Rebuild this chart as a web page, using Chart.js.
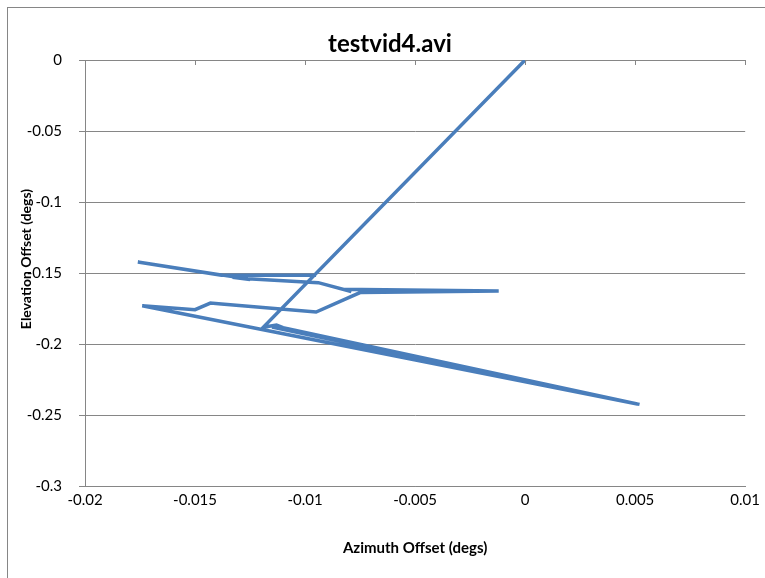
<!DOCTYPE html>
<html>
<head>
<meta charset="utf-8">
<script src="https://cdn.jsdelivr.net/npm/chart.js@4"></script>
<style>
  html, body { margin: 0; padding: 0; background: #fff; }
  #wrap { width: 765px; height: 578px; }
</style>
</head>
<body>
<div id="wrap"><canvas id="miGrafica"></canvas></div>
<script>
'use strict'

// DATOS
const azimuth = [0, -0.0119, -0.0113, -0.0110, 0.0052, -0.0115, 0.0051, -0.0174, -0.0150, -0.0143,
  -0.0138, -0.0095, -0.0075, -0.0012, -0.0081, -0.0079, -0.0094, -0.0126, -0.0133, -0.0125,
  -0.0176, -0.0138, -0.0095];
const elevation = [0, -0.1882, -0.1866, -0.1885, -0.2425, -0.1880, -0.2422, -0.1730, -0.1758, -0.1712,
  -0.1718, -0.1775, -0.1638, -0.1627, -0.1615, -0.1630, -0.1568, -0.1540, -0.1530, -0.1545,
  -0.1423, -0.1515, -0.1515];
const xTickLabels = ['-0.02', '-0.015', '-0.01', '-0.005', '0', '0.005', '0.01'];
const yTickLabels = ['-0.3', '-0.25', '-0.2', '-0.15', '-0.1', '-0.05', '0'];

const FONT = 'Lato, "Open Sans", sans-serif';
const GRIS = '#868686';

// BORDE, TITULO, TITULO DEL EJE Y Y MARCAS DEL EJE SUPERIOR
const extras = {
  id: 'extras',
  beforeDraw(chart) {
    const ctx = chart.ctx;
    ctx.save();
    ctx.strokeStyle = GRIS;
    ctx.lineWidth = 1;
    ctx.strokeRect(7.5, 7.5, 900, 900);
    ctx.restore();
  },
  afterDraw(chart) {
    const ctx = chart.ctx;
    const x = chart.scales.x;
    const area = chart.chartArea;
    ctx.save();
    ctx.strokeStyle = GRIS;
    ctx.lineWidth = 1;
    x.ticks.forEach(t => {
      const px = Math.round(x.getPixelForValue(t.value)) + 0.5;
      ctx.beginPath();
      ctx.moveTo(px, area.top);
      ctx.lineTo(px, area.top + 5);
      ctx.stroke();
    });
    ctx.fillStyle = '#000';
    ctx.font = 'bold 24px ' + FONT;
    ctx.textAlign = 'center';
    ctx.textBaseline = 'alphabetic';
    ctx.fillText('testvid4.avi', 390, 52);

    ctx.translate(26, 259);
    ctx.rotate(-Math.PI / 2);
    ctx.font = 'bold 14px ' + FONT;
    ctx.textBaseline = 'middle';
    ctx.fillText('Elevation Offset (degs)', 0, 0);
    ctx.restore();
  }
};

function crearGrafica() {
  const ctx = document.getElementById('miGrafica').getContext('2d');
  const puntos = azimuth.map((a, i) => ({ x: a, y: elevation[i] }));

  new Chart(ctx, {
    type: 'scatter',
    data: {
      datasets: [{
        data: puntos,
        showLine: true,
        borderColor: '#4A7EBB',
        backgroundColor: '#4A7EBB',
        borderWidth: 3.5,
        pointRadius: 0,
        tension: 0
      }]
    },
    options: {
      responsive: true,
      maintainAspectRatio: false,
      animation: false,
      layout: { padding: { left: 0, right: 17, top: 60, bottom: 0 } },
      scales: {
        x: {
          min: -0.02,
          max: 0.01,
          afterFit(scale) { scale.height = 92; },
          ticks: {
            stepSize: 0.005,
            padding: 5,
            color: '#000',
            font: { family: FONT, size: 15 },
            callback: (v, i) => xTickLabels[i]
          },
          grid: { drawOnChartArea: false, drawTicks: false },
          border: { color: GRIS },
          title: {
            display: true,
            text: 'Azimuth Offset (degs)',
            color: '#000',
            font: { family: FONT, size: 15, weight: 'bold' },
            padding: { top: 0, bottom: 21 }
          }
        },
        y: {
          min: -0.3,
          max: 0,
          afterFit(scale) { scale.width = 85; },
          ticks: {
            stepSize: 0.05,
            padding: 17,
            color: '#000',
            font: { family: FONT, size: 15 },
            callback: (v, i) => yTickLabels[i]
          },
          grid: { color: GRIS, tickLength: 6 },
          border: { color: GRIS }
        }
      },
      plugins: {
        legend: { display: false },
        tooltip: { enabled: false },
        title: { display: false }
      }
    },
    plugins: [extras]
  });
}

crearGrafica();
</script>
</body>
</html>
